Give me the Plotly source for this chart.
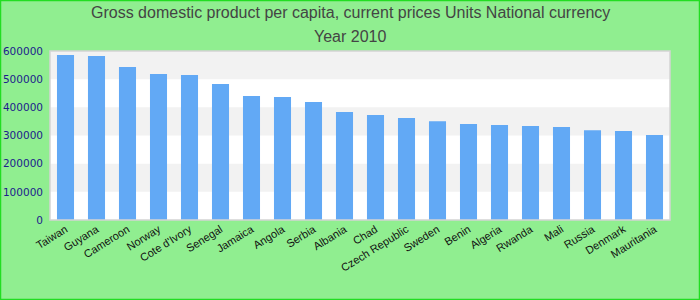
import plotly.graph_objects as go

countries = ["Taiwan", "Guyana", "Cameroon", "Norway", "Cote d'Ivory", "Senegal", "Jamaica",
             "Angola", "Serbia", "Albania", "Chad", "Czech Republic", "Sweden", "Benin",
             "Algeria", "Rwanda", "Mali", "Russia", "Denmark", "Mauritania"]
gdp = [585700, 582000, 543000, 518000, 515000, 483000, 440000, 437000, 419000, 383000,
       373000, 362000, 351000, 341000, 337000, 334000, 330000, 319000, 316000, 302000]
y_ticks = [0, 100000, 200000, 300000, 400000, 500000, 600000]

W, H = 700, 300
ml, mr, mt, mb = 50, 30, 51, 80
pw, ph = W - ml - mr, H - mt - mb

fig = go.Figure()
fig.add_trace(go.Bar(x=countries, y=gdp, marker=dict(color="#62a9f5", line=dict(width=0)),
                     width=0.55))

shapes = []
# alternating bands
for i in range(len(y_ticks) - 1):
    if i % 2 == 1:
        shapes.append(dict(type="rect", xref="paper", yref="y", x0=0, x1=1,
                           y0=y_ticks[i], y1=y_ticks[i + 1], fillcolor="#f2f2f2",
                           line=dict(width=0), layer="below"))
# plot frame
shapes.append(dict(type="rect", xref="paper", yref="paper", x0=0, x1=1, y0=0, y1=1,
                   line=dict(color="#d4d4d4", width=1.5), layer="above"))
# outer border
shapes.append(dict(type="rect", xref="paper", yref="paper",
                   x0=-ml / pw + 0.5 / pw, x1=1 + mr / pw - 0.5 / pw,
                   y0=-mb / ph + 0.5 / ph, y1=1 + mt / ph - 0.5 / ph,
                   line=dict(color="#22dd22", width=1.5), layer="above"))

annotations = [
    dict(text="Gross domestic product per capita, current prices Units National currency",
         xref="paper", yref="paper", x=0.5 - (ml - mr) / 2 / pw, y=1 + (mt - 13) / ph,
         showarrow=False, font=dict(size=16, color="#444444"), xanchor="center", yanchor="middle"),
    dict(text="Year 2010",
         xref="paper", yref="paper", x=0.5 - (ml - mr) / 2 / pw, y=1 + (mt - 36) / ph,
         showarrow=False, font=dict(size=16, color="#444444"), xanchor="center", yanchor="middle"),
]

fig.update_layout(
    width=W, height=H,
    margin=dict(l=ml, r=mr, t=mt, b=mb, autoexpand=False),
    paper_bgcolor="#90ee90",
    plot_bgcolor="#ffffff",
    font=dict(family="Liberation Sans, Arial, sans-serif"),
    shapes=shapes,
    annotations=annotations,
    showlegend=False,
    bargap=0.45,
)
fig.update_xaxes(tickangle=-32, tickfont=dict(size=11, color="#111111"), showgrid=False,
                 showline=False, ticks="", zeroline=False, automargin=False)
fig.update_yaxes(range=[0, 600000], tickvals=y_ticks, ticktext=[str(v) for v in y_ticks],
                 tickfont=dict(size=10.5, color="#1c1c8c", family="DejaVu Sans, Verdana, sans-serif"),
                 showgrid=False, zeroline=False, showline=False, ticks="", ticklabelstandoff=6,
                 automargin=False)

fig.write_html("out.html")
